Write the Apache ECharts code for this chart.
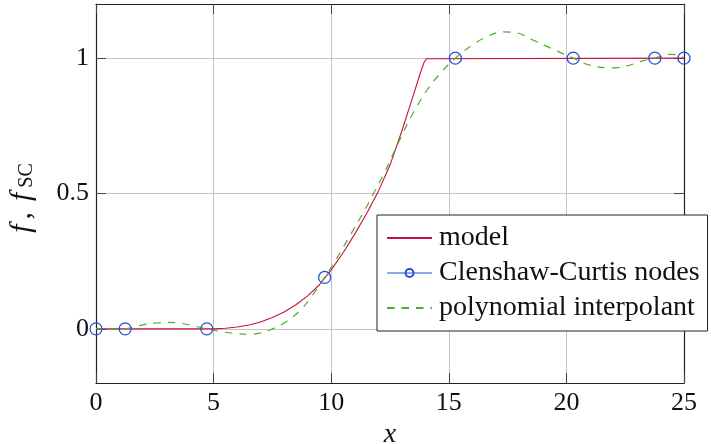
<!DOCTYPE html>
<html>
<head>
<meta charset="utf-8">
<script src="https://cdn.jsdelivr.net/npm/echarts@6/dist/echarts.min.js"></script>
<style>
  html, body { margin: 0; padding: 0; background: #fff; }
  #chart { width: 711px; height: 444px; }
</style>
</head>
<body>
<div id="chart"></div>
<script>
// values
const nodeX = [0, 1.24, 4.71, 9.72, 15.28, 20.29, 23.76, 25];
const nodeY = [0, 0, 0, 0.19, 1, 1, 1, 1];

const modelX = [0, 5, 5.5, 6, 6.5, 7, 7.5, 8, 8.5, 9, 9.5, 10, 10.5, 11, 11.5, 12, 12.5, 13, 13.5, 13.8, 13.95, 14.05, 14.1, 25];
const modelY = [0, 0, 0.002, 0.007, 0.014, 0.025, 0.042, 0.062, 0.089, 0.122, 0.163, 0.218, 0.28, 0.35, 0.425, 0.507, 0.605, 0.73, 0.865, 0.948, 0.985, 0.998, 1, 1];

const polyX = [0, 0.6, 1.24, 2, 2.5, 3, 3.5, 4, 4.71, 5.3, 6, 6.5, 7, 7.4, 8.1, 8.7, 9.1, 9.72, 10.2, 10.8, 11.4, 11.8, 12.25, 12.95, 13.5, 14.1, 14.65, 15.28, 16.1, 16.7, 17.3, 17.8, 18.6, 19.5, 20.29, 21, 21.9, 22.6, 23.2, 23.76, 24.4, 24.8, 25];
const polyY = [0, -0.002, 0, 0.015, 0.021, 0.024, 0.022, 0.014, 0, -0.01, -0.018, -0.02, -0.015, -0.004, 0.027, 0.07, 0.112, 0.19, 0.255, 0.345, 0.435, 0.5, 0.575, 0.705, 0.8, 0.885, 0.945, 1, 1.054, 1.083, 1.097, 1.095, 1.066, 1.03, 1, 0.974, 0.964, 0.972, 0.989, 1, 1.014, 1.01, 1];

const xTicks = [0, 5, 10, 15, 20, 25];
const yTicks = [0, 0.5, 1];

const serif = "'Liberation Serif', 'DejaVu Serif', serif";
const red = '#c8103e', blue = '#2450d8', green = '#4caf28';

function pairs(xs, ys) {
  return xs.map((x, i) => [x, ys[i]]);
}

const chart = echarts.init(document.getElementById('chart'));

const tickStyle = {show: true, inside: true, length: 10, lineStyle: {color: '#444', width: 1}};
const frame = {show: true, onZero: false, lineStyle: {color: '#222', width: 1.2}};

const option = {
  animation: false,
  backgroundColor: '#fff',
  textStyle: {fontFamily: serif},
  grid: {left: 96, right: 27, top: 4, bottom: 61, outerBoundsMode: 'none', containLabel: false},
  legend: {
    orient: 'vertical',
    left: 377,
    top: 215,
    itemWidth: 45,
    itemHeight: 10,
    itemGap: 7,
    padding: [9, 8, 9, 9],
    backgroundColor: '#fff',
    borderColor: '#222',
    borderWidth: 1,
    borderRadius: 0,
    formatter: '{t|{name}}',
    textStyle: {
      fontFamily: serif, fontSize: 28, color: '#111',
      rich: {t: {fontFamily: serif, fontSize: 28, lineHeight: 26, color: '#111', padding: [0, 0, 0, 2]}}
    },
    data: [
      {name: 'model', itemStyle: {opacity: 0}},
      {name: 'Clenshaw-Curtis nodes', lineStyle: {color: blue, width: 1.2, opacity: 1}},
      {name: 'polynomial interpolant', itemStyle: {opacity: 0}}
    ]
  },
  xAxis: [
    {
      type: 'value', min: 0, max: 25, interval: 5,
      name: 'x', nameLocation: 'middle', nameGap: 35,
      nameTextStyle: {fontFamily: serif, fontStyle: 'italic', fontSize: 28, color: '#111'},
      axisLine: frame,
      axisTick: Object.assign({customValues: xTicks}, tickStyle),
      axisLabel: {customValues: xTicks, margin: 7, fontFamily: serif, fontSize: 26, color: '#111'},
      splitLine: {show: true, lineStyle: {color: '#c4c4c4', width: 1}}
    },
    {
      type: 'value', min: 0, max: 25, interval: 5, position: 'top',
      axisLine: frame,
      axisTick: Object.assign({customValues: xTicks}, tickStyle),
      axisLabel: {show: false},
      splitLine: {show: false}
    }
  ],
  yAxis: [
    {
      type: 'value', min: -0.2, max: 1.2,
      name: '{i|f}{n|,}{i|f}{s|SC}', nameLocation: 'middle', nameRotate: 90, nameGap: 59,
      nameTextStyle: {
        rich: {
          i: {fontFamily: serif, fontStyle: 'italic', fontSize: 30, lineHeight: 30, padding: [0, 5, 0, 5], color: '#111'},
          n: {fontFamily: serif, fontSize: 30, lineHeight: 30, padding: [0, 6, 0, 0], color: '#111'},
          s: {fontFamily: serif, fontSize: 20, lineHeight: 20, padding: [14, 14, 0, 0], verticalAlign: 'bottom', color: '#111'}
        }
      },
      axisLine: frame,
      axisTick: Object.assign({customValues: yTicks}, tickStyle),
      axisLabel: {customValues: yTicks, margin: 7, fontFamily: serif, fontSize: 26, color: '#111'},
      splitLine: {show: true, lineStyle: {color: '#c4c4c4', width: 1}}
    },
    {
      type: 'value', min: -0.2, max: 1.2, position: 'right',
      axisLine: frame,
      axisTick: Object.assign({customValues: yTicks}, tickStyle),
      axisLabel: {show: false},
      splitLine: {show: false}
    }
  ],
  series: [
    {
      name: 'model',
      type: 'line',
      data: pairs(modelX, modelY),
      symbol: 'none',
      smooth: false,
      color: red,
      lineStyle: {color: red, width: 1.1}
    },
    {
      name: 'polynomial interpolant',
      type: 'line',
      data: pairs(polyX, polyY),
      symbol: 'none',
      smooth: 0.4,
      color: green,
      lineStyle: {color: green, width: 1.2, type: [7.5, 7]}
    },
    {
      name: 'Clenshaw-Curtis nodes',
      type: 'line',
      data: pairs(nodeX, nodeY),
      symbol: 'circle',
      symbolSize: 12,
      color: blue,
      itemStyle: {color: 'rgba(255,255,255,0)', borderColor: blue, borderWidth: 1.3},
      lineStyle: {width: 0, opacity: 0},
      z: 5
    }
  ]
};

chart.setOption(option);
</script>
</body>
</html>
